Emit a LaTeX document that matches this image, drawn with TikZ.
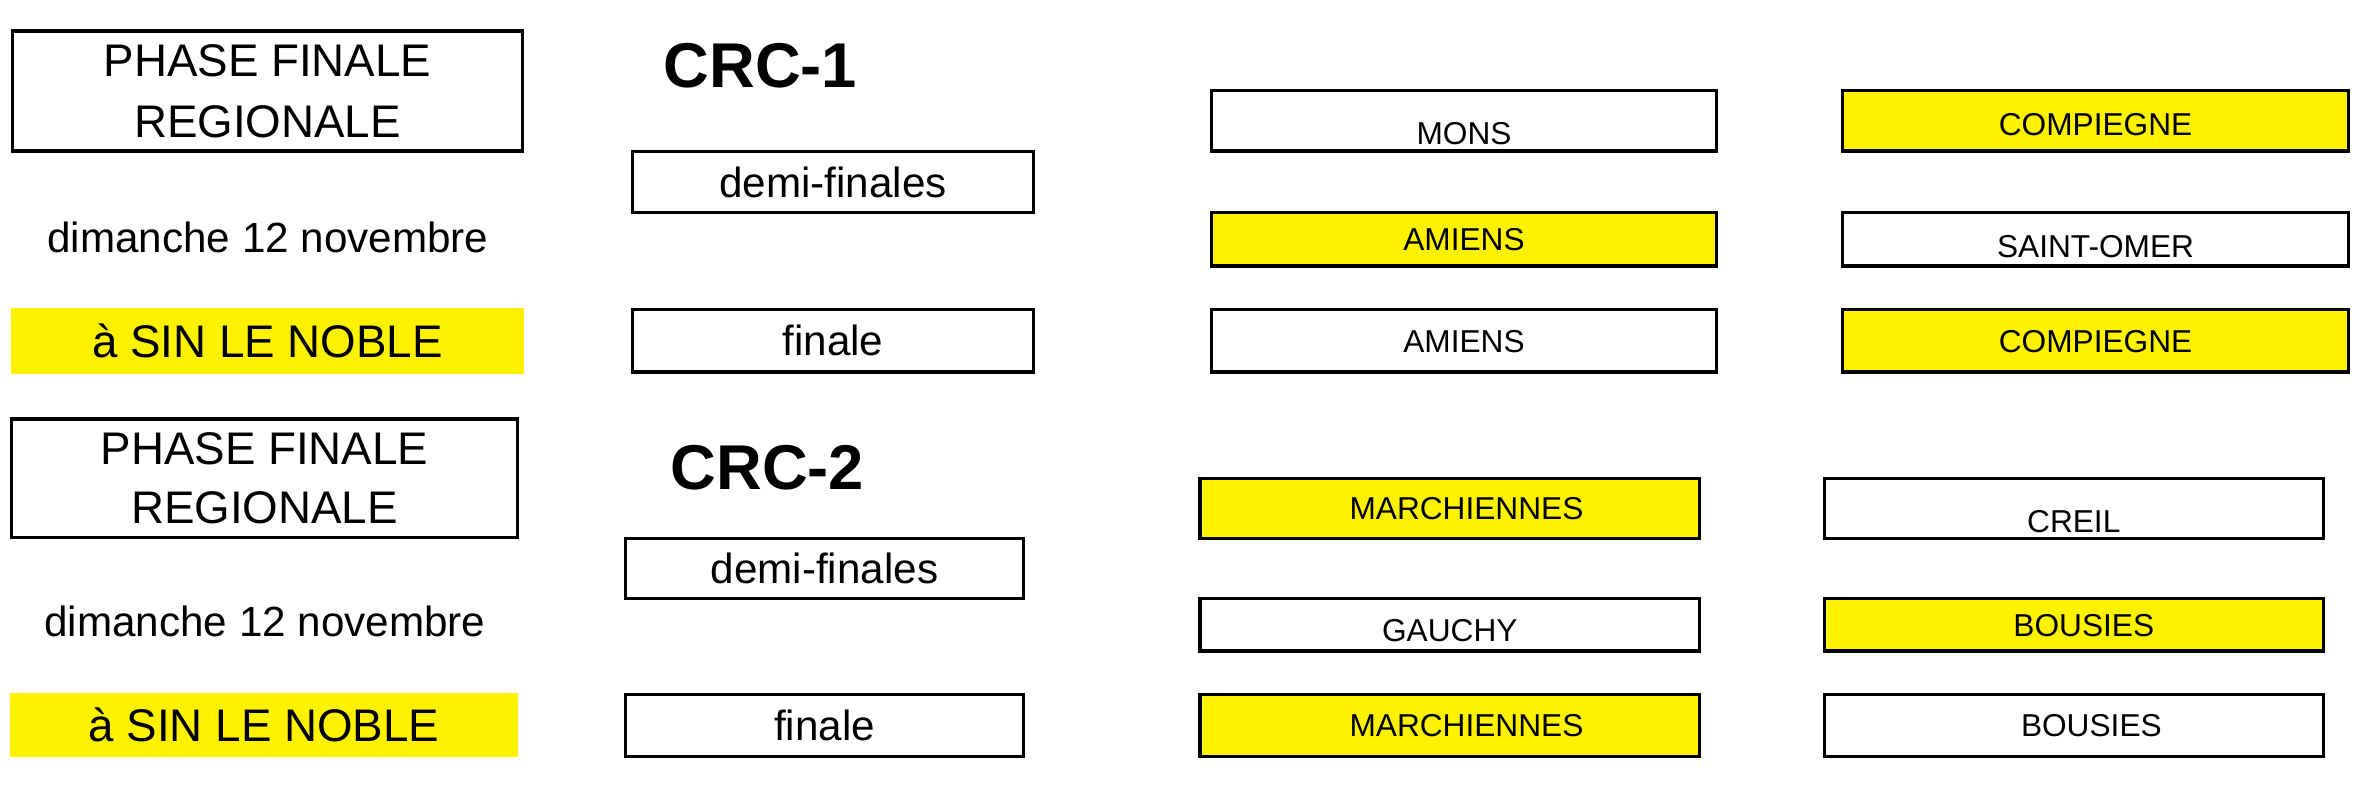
\documentclass[tikz,border=0pt]{standalone}
\usepackage{fontspec}
\setmainfont{Liberation Sans}
\tikzset{
  cellbox/.style={draw, line width=0.95pt, inner sep=0pt, font=\fontsize{9}{11}\selectfont, text height=6.4pt, text depth=0pt},
  yel/.style={fill=yellow},
  midbox/.style={draw, line width=0.95pt, inner sep=0pt, font=\fontsize{12}{14}\selectfont, text height=8.6pt, text depth=0pt},
  titlebox/.style={draw, line width=0.95pt, inner sep=0pt, align=center},
  placebox/.style={fill=yellow, inner sep=0pt, font=\fontsize{13}{15}\selectfont, text height=9.3pt, text depth=0pt},
  datetext/.style={inner sep=0pt, font=\fontsize{12}{14}\selectfont, text height=6.2pt, text depth=0pt},
  crctext/.style={inner sep=0pt, anchor=west, font=\fontsize{18}{20}\selectfont\bfseries, text height=12.9pt, text depth=0pt}
}
% name, x1, y1, x2, y2 (outer edges, px), style, text
\newcommand\cellnode[7]{%
  \node[#6, minimum width={(#4-#2-3.3)*0.01cm}, minimum height={(#5-#3-3.3)*0.01cm}] (#1) at ({(#2+#4)/2},{(#3+#5)/2}) {#7};}
\begin{document}
\begin{tikzpicture}[x=0.01cm,y=-0.01cm]
\useasboundingbox (0,0) rectangle (2370,790);
% ---------- CRC-1 ----------
\cellnode{pfa}{11}{29.5}{524}{152.7}{titlebox, font=\fontsize{13}{17.3}\selectfont}{PHASE FINALE\\REGIONALE}
\node[datetext] (datea) at (268,242) {dimanche 12 novembre};
\cellnode{sina}{9.3}{306.3}{525.7}{375.2}{placebox}{à SIN LE NOBLE}
\node[crctext] (crca) at (663,65) {CRC-1};
\cellnode{demia}{631}{150}{1035}{214}{midbox}{demi-finales}
\cellnode{fina}{631}{308}{1035}{373.5}{midbox}{finale}
\cellnode{a11}{1210}{89}{1718}{152.7}{cellbox, text height=13.2pt}{MONS}
\cellnode{a12}{1841}{89}{2350}{152.7}{cellbox, yel, text height=8.1pt}{COMPIEGNE}
\cellnode{a21}{1210}{211}{1718}{267.5}{cellbox, yel}{AMIENS}
\cellnode{a22}{1841}{211}{2350}{267.5}{cellbox, text height=10.1pt}{SAINT-OMER}
\cellnode{a31}{1210}{308}{1718}{373.5}{cellbox}{AMIENS}
\cellnode{a32}{1841}{308}{2350}{373.5}{cellbox, yel}{COMPIEGNE}
% ---------- CRC-2 ----------
\cellnode{pfb}{10}{417.2}{519}{539}{titlebox, font=\fontsize{13}{16.8}\selectfont}{PHASE FINALE\\REGIONALE}
\node[datetext] (dateb) at (265,626) {dimanche 12 novembre};
\cellnode{sinb}{8.3}{691.3}{519.7}{758.7}{placebox}{à SIN LE NOBLE}
\node[crctext] (crcb) at (670,466.6) {CRC-2};
\cellnode{demib}{624}{537}{1025}{600}{midbox}{demi-finales}
\cellnode{finb}{624}{693}{1025}{758}{midbox}{finale}
\cellnode{b11}{1198.5}{476.7}{1701}{540}{cellbox, yel}{\hspace*{9.5pt}MARCHIENNES}
\cellnode{b12}{1822.5}{476.7}{2325}{540}{cellbox, text height=13.5pt}{CREIL}
\cellnode{b21}{1198.5}{597}{1701}{652.7}{cellbox, text height=9.2pt}{GAUCHY}
\cellnode{b22}{1822.5}{597}{2325}{652.7}{cellbox, yel}{\hspace*{5.7pt}BOUSIES}
\cellnode{b31}{1198.5}{693}{1701}{758}{cellbox, yel}{\hspace*{9.5pt}MARCHIENNES}
\cellnode{b32}{1822.5}{693}{2325}{758}{cellbox}{\hspace*{10pt}BOUSIES}
\end{tikzpicture}
\end{document}
